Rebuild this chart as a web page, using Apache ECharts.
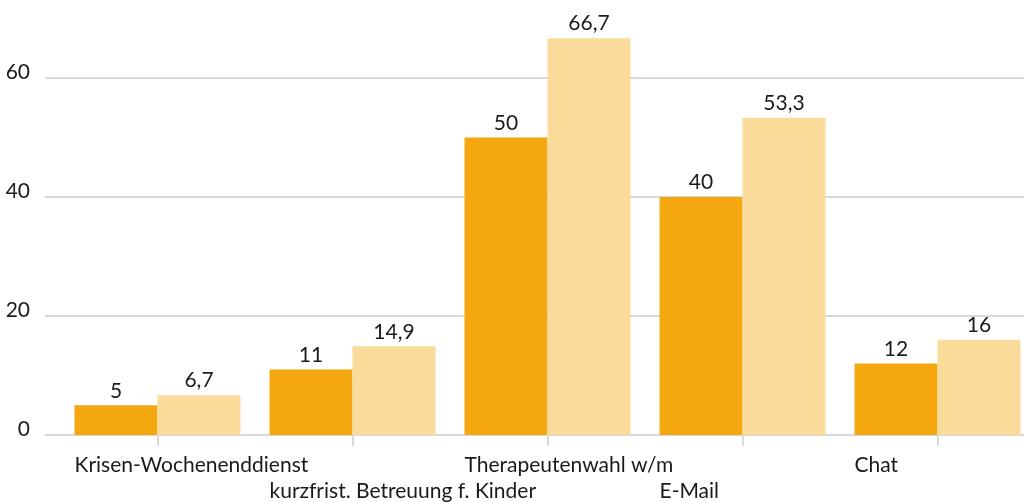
<!DOCTYPE html>
<html>
<head>
<meta charset="utf-8">
<script src="https://cdn.jsdelivr.net/npm/echarts@6/dist/echarts.min.js"></script>
<style>
  html, body { margin: 0; padding: 0; background: #ffffff; }
  #chart { width: 1024px; height: 502px; }
</style>
</head>
<body>
<div id="chart"></div>
<script>
// Angebote: two survey groups per category (values in %)
const categories = [
  'Krisen-Wochenenddienst',
  'kurzfrist. Betreuung f. Kinder',
  'Therapeutenwahl w/m',
  'E-Mail',
  'Chat'
];
const seriesA = [5, 11, 50, 40, 12];
const seriesB = [6.7, 14.9, 66.7, 53.3, 16];
const yTicks = { min: 0, max: 80, interval: 20 };

const FONT = 'Lato, "Noto Sans", sans-serif';
const FS = 21;
const TEXT = '#1a1a1a';
const GRID = '#d9d9d9';

const fmtValue = p => String(p.value).replace('.', ',');

const chart = echarts.init(document.getElementById('chart'), null, { renderer: 'canvas' });

chart.setOption({
  animation: false,
  backgroundColor: '#ffffff',
  textStyle: { fontFamily: FONT },
  grid: [
    // bars
    { left: 60, right: -11, top: -41, bottom: 67, containLabel: false, outerBoundsMode: 'none' },
    // value scale with horizontal gridlines
    { left: 45, right: 0, top: -41, bottom: 67, containLabel: false, outerBoundsMode: 'none' }
  ],
  xAxis: [
    {
      type: 'category',
      gridIndex: 0,
      data: categories,
      axisLine: { show: false },
      axisTick: {
        show: true,
        alignWithLabel: true,
        length: 11,
        lineStyle: { color: GRID, width: 2 }
      },
      axisLabel: {
        interval: 0,
        margin: 18,
        fontFamily: FONT,
        fontSize: FS,
        color: TEXT,
        // alternate labels drop to a second row
        formatter: (v, i) => (i % 2 === 0 ? '{top|' + v + '}' : '{low|' + v + '}'),
        rich: {
          top: { width: 166, align: 'left', fontSize: FS, fontFamily: FONT, color: TEXT, lineHeight: 24 },
          low: { width: 166, align: 'left', fontSize: FS, fontFamily: FONT, color: TEXT, lineHeight: 76 }
        }
      }
    },
    { type: 'value', gridIndex: 1, show: false, min: 0, max: 1 }
  ],
  yAxis: [
    {
      type: 'value',
      gridIndex: 0,
      min: yTicks.min, max: yTicks.max, interval: yTicks.interval,
      show: false,
      splitLine: { show: false }
    },
    {
      type: 'value',
      gridIndex: 1,
      min: yTicks.min, max: yTicks.max, interval: yTicks.interval,
      axisLine: { show: false },
      axisTick: { show: false },
      splitLine: { show: true, lineStyle: { color: GRID, width: 2 } },
      axisLabel: {
        margin: 15,
        fontFamily: FONT,
        fontSize: FS,
        color: TEXT,
        verticalAlign: 'bottom',
        lineHeight: 12
      }
    }
  ],
  series: [
    {
      type: 'bar',
      xAxisIndex: 0, yAxisIndex: 0,
      data: seriesA,
      barWidth: 83,
      barGap: '0%',
      itemStyle: { color: '#f5a70f' },
      label: {
        show: true, position: 'top', distance: 4,
        fontFamily: FONT, fontSize: FS, color: TEXT,
        formatter: fmtValue
      }
    },
    {
      type: 'bar',
      xAxisIndex: 0, yAxisIndex: 0,
      data: seriesB,
      barWidth: 83,
      barGap: '0%',
      itemStyle: { color: '#fadb99' },
      label: {
        show: true, position: 'top', distance: 4,
        fontFamily: FONT, fontSize: FS, color: TEXT,
        formatter: fmtValue
      }
    }
  ]
});
</script>
</body>
</html>
